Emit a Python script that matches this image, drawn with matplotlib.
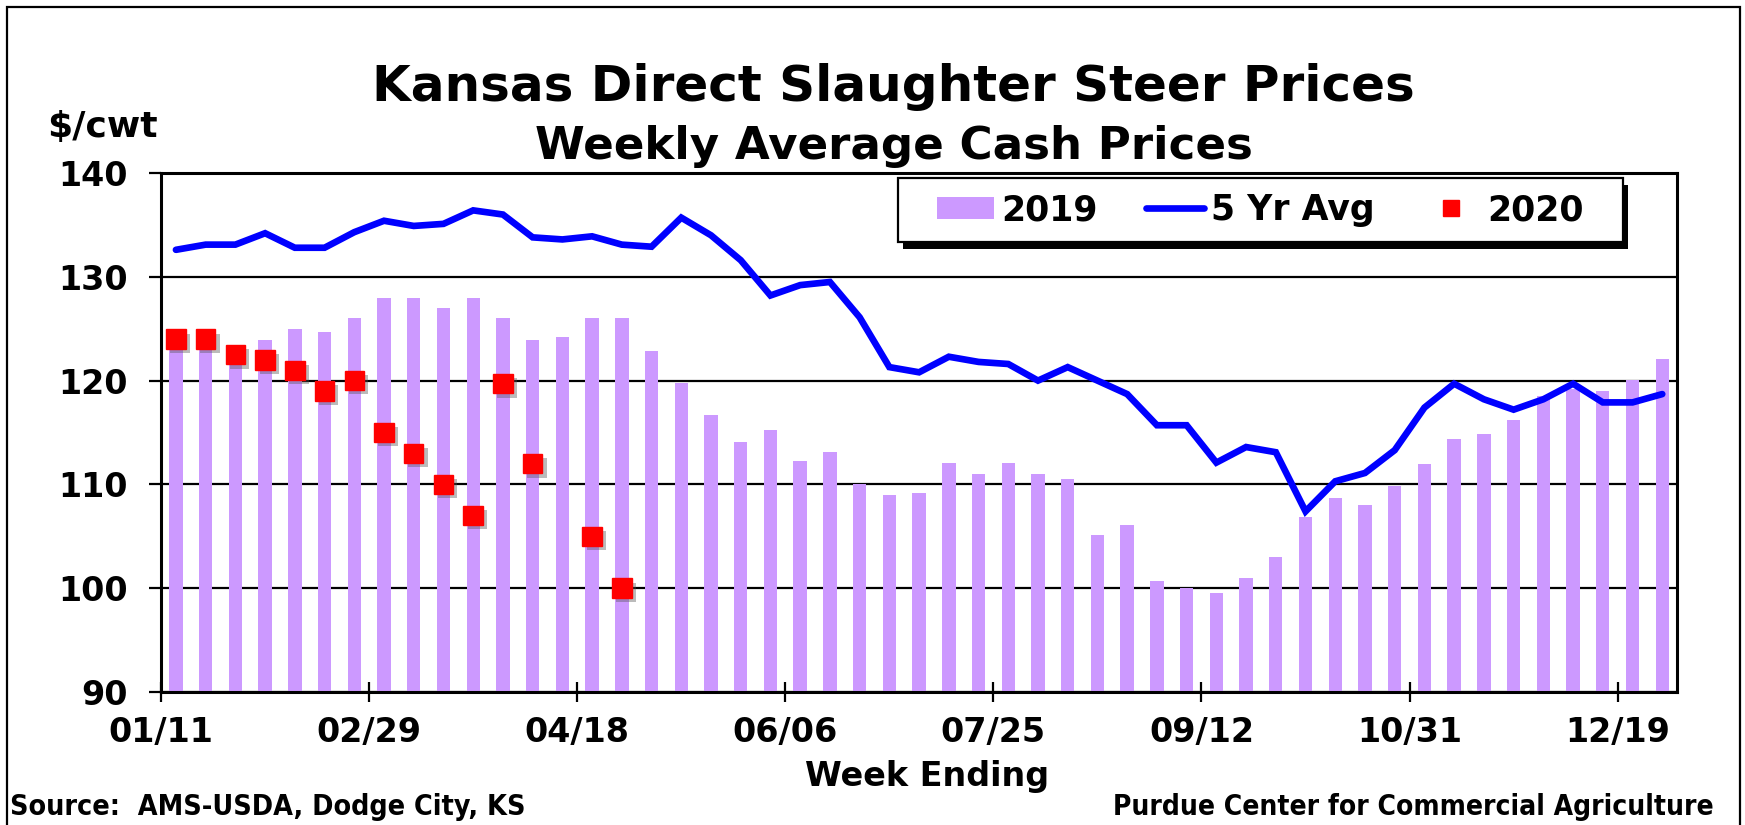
import numpy as np
import matplotlib
matplotlib.use("Agg")
import matplotlib.pyplot as plt
import matplotlib.patheffects as pe
from matplotlib.patches import Patch, Rectangle
from matplotlib.lines import Line2D

plt.rcParams['font.family'] = ['DejaVu Sans']
plt.rcParams['font.weight'] = 'bold'

# week labels shown every 7 weeks
tick_labels = ["01/11", "02/29", "04/18", "06/06", "07/25", "09/12", "10/31", "12/19"]

# 2019 weekly prices (bars)
prices_2019 = [123.5, 123.3, 122.8, 123.9, 125.0, 124.7, 126.0, 128.0, 128.0, 127.0,
               128.0, 126.0, 123.9, 124.2, 126.0, 126.0, 122.9, 119.8, 116.7, 114.1,
               115.2, 112.3, 113.1, 110.0, 109.0, 109.2, 112.1, 111.0, 112.1, 111.0,
               110.5, 105.1, 106.1, 100.7, 100.0, 99.5, 101.0, 103.0, 106.9, 108.7,
               108.0, 109.8, 112.0, 114.4, 114.9, 116.2, 118.5, 119.2, 119.0, 120.1,
               122.1]

# 5 year average (line)
avg_5yr = [132.6, 133.1, 133.1, 134.2, 132.8, 132.8, 134.3, 135.4, 134.9, 135.1,
           136.4, 136.0, 133.8, 133.6, 133.9, 133.1, 132.9, 135.7, 134.0, 131.6,
           128.2, 129.2, 129.5, 126.1, 121.3, 120.8, 122.3, 121.8, 121.6, 120.0,
           121.3, 120.0, 118.7, 115.7, 115.7, 112.1, 113.6, 113.1, 107.4, 110.3,
           111.1, 113.3, 117.4, 119.7, 118.2, 117.2, 118.2, 119.7, 117.9, 117.9,
           118.7]

# 2020 weekly prices so far (squares)
prices_2020 = [124.0, 124.0, 122.5, 122.0, 121.0, 119.0, 120.0, 115.0, 113.0, 110.0,
               107.0, 119.7, 112.0, np.nan, 105.0, 100.0]

weeks = np.arange(len(prices_2019))

fig = plt.figure(figsize=(17.45, 8.25), dpi=100)
ax = fig.add_axes([0.0923, 0.1612, 0.8688, 0.6291])

ax.bar(weeks, prices_2019, width=0.45, color='#CC99FF', zorder=2)
ax.plot(weeks, avg_5yr, color='#0000FF', lw=4.8, solid_capstyle='round',
        solid_joinstyle='miter', zorder=3)
ax.plot(np.arange(len(prices_2020)), prices_2020, ls='none', marker='s', markersize=14,
        color='#FF0000', zorder=4,
        path_effects=[pe.SimplePatchShadow(offset=(3, -3), shadow_rgbFace='#555555', alpha=0.4),
                      pe.Normal()])

ax.set_ylim(90, 140)
ax.set_xlim(-0.5, len(weeks) - 0.5)
ax.set_yticks(np.arange(90, 141, 10))
ax.set_xticks(np.arange(len(tick_labels)) * 7 - 0.5)
ax.set_xticklabels(tick_labels)
ax.yaxis.grid(True, color='black', lw=1.6, zorder=1)
ax.set_axisbelow(True)
for s in ax.spines.values():
    s.set_linewidth(2.2)
ax.tick_params(axis='y', direction='out', length=9, width=1.6, labelsize=24, pad=15)
ax.tick_params(axis='x', direction='inout', length=14, width=1.6, labelsize=24, pad=10)

# legend box with a solid black shadow, drawn by hand
bx, by, bw, bh = 0.486, 0.867, 0.478, 0.123
ax.add_patch(Rectangle((bx + 0.0035, by - 0.0135), bw, bh, transform=ax.transAxes,
                       facecolor='black', edgecolor='none', clip_on=False, zorder=6))
ax.add_patch(Rectangle((bx, by), bw, bh, transform=ax.transAxes, facecolor='white',
                       edgecolor='black', lw=1.6, clip_on=False, zorder=6.5))
handles = [Patch(facecolor='#CC99FF', edgecolor='none'),
           Line2D([], [], color='#0000FF', lw=4.8, solid_capstyle='round'),
           Line2D([], [], color='#FF0000', marker='s', ls='none', markersize=11)]
leg = ax.legend(handles, ["2019", "5 Yr Avg", "2020"], ncol=3, loc='center',
                bbox_to_anchor=(bx + bw / 2, by + bh / 2), fontsize=25, frameon=False,
                handlelength=1.65, handleheight=0.62, columnspacing=1.4, handletextpad=0.2,
                borderpad=0.2, borderaxespad=0)
leg.set_zorder(7)

fig.text(0.512, 0.895, "Kansas Direct Slaughter Steer Prices", ha='center', va='center',
         fontsize=36, fontweight='bold')
fig.text(0.512, 0.822, "Weekly Average Cash Prices", ha='center', va='center',
         fontsize=32.5, fontweight='bold')
fig.text(0.027, 0.846, "$/cwt", ha='left', va='center', fontsize=26, fontweight='bold')
fig.text(0.531, 0.059, "Week Ending", ha='center', va='center', fontsize=24, fontweight='bold')
fig.text(0.006, 0.022, "Source:  AMS-USDA, Dodge City, KS", ha='left', va='center',
         fontsize=20.5, fontweight='bold', fontstretch='condensed')
fig.text(0.982, 0.022, "Purdue Center for Commercial Agriculture", ha='right', va='center',
         fontsize=20.2, fontweight='bold', fontstretch='condensed')

# outer chart border
fig.patches.append(Rectangle((0.004, -0.02), 0.993, 1.011, transform=fig.transFigure,
                             fill=False, edgecolor='black', lw=1.6, zorder=10))

fig.savefig("out.png", dpi=100)
